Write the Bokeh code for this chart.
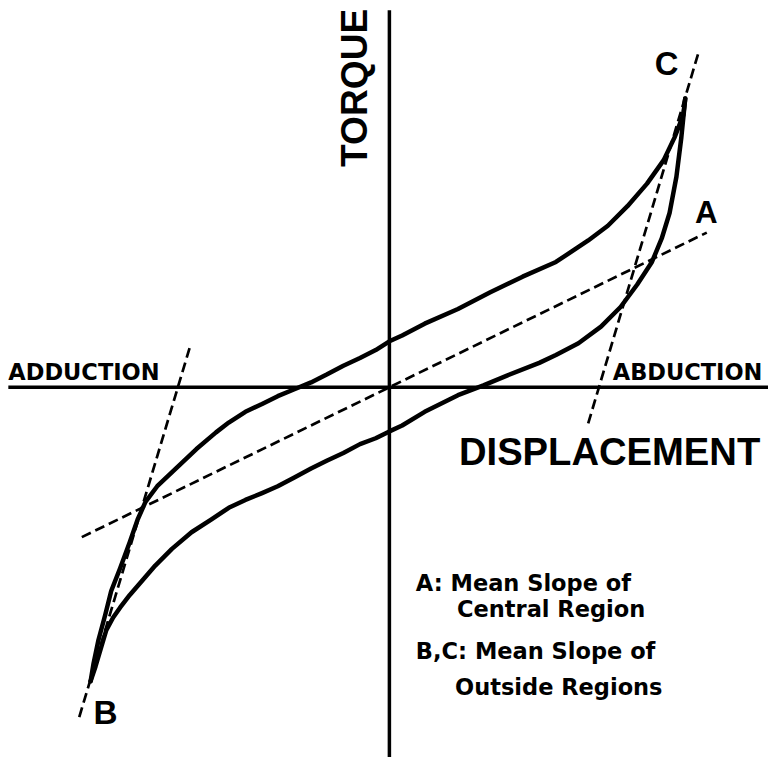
from math import pi
from bokeh.plotting import figure
from bokeh.models import Range1d, Label
from bokeh.embed import file_html
from bokeh.resources import INLINE

# Displacement (x) and torque (y), origin at the crossing of the axes
loading_x = [-305, -302, -297, -290, -284, -275, -265, -257, -249, -237, -217, -197,
             -177, -164, -147, -130, -114, -97, -80, -64, -47, -30, -14, 0, 13, 36, 70,
             103, 136, 170, 203, 223, 243, 263, 280, 291, 300, 302]
loading_y = [-300, -282, -258, -232, -208, -185, -158, -135, -117, -101, -82, -63,
             -46, -36, -25, -17, -9, -2, 5, 13, 22, 30, 38, 47, 53, 65, 80,
             97, 113, 128, 150, 165, 185, 208, 232, 255, 278, 295]

unloading_x = [302, 298, 293, 286, 278, 268, 253, 236, 216, 193, 170, 153, 120, 96, 70, 36,
               13, 0, -14, -30, -47, -64, -80, -97, -114, -130, -147, -164, -182, -202,
               -222, -239, -252, -265, -275, -282, -289, -295, -300, -305]
unloading_y = [295, 255, 215, 178, 152, 128, 105, 82, 62, 45, 33, 25, 12, 2, -8, -25,
               -39, -45, -52, -58, -67, -75, -83, -92, -101, -108, -115, -123, -135, -148,
               -165, -182, -197, -212, -225, -235, -248, -268, -285, -300]

# Mean slope lines (A: central region, B and C: outside regions)
slope_a_x = [-314, 324]
slope_a_y = [-153, 158]
slope_b_x = [-204, -317]
slope_b_y = [40, -338]
slope_c_x = [315, 202]
slope_c_y = [340, -40]

# Axes
axis_h_x = [-389, 387]
axis_h_y = [0, 0]
axis_v_x = [0, 0]
axis_v_y = [385, -378]

S = 768 / 784  # page pixels per reference pixel

p = figure(width=768, height=757, x_range=Range1d(-397, 387), y_range=Range1d(-378, 395),
           toolbar_location=None, output_backend="svg", min_border=0,
           x_axis_location=None, y_axis_location=None)
p.grid.visible = False
p.outline_line_color = None
p.background_fill_color = "white"
p.border_fill_color = "white"

p.line(axis_h_x, axis_h_y, line_color="black", line_width=3.5)
p.line(axis_v_x, axis_v_y, line_color="black", line_width=3.5)

p.line(loading_x, loading_y, line_color="black", line_width=4.5, line_join="round", line_cap="round")
p.line(unloading_x, unloading_y, line_color="black", line_width=4.5, line_join="round", line_cap="round")

for sx, sy in [(slope_a_x, slope_a_y), (slope_b_x, slope_b_y), (slope_c_x, slope_c_y)]:
    p.line(sx, sy, line_color="black", line_width=2.7, line_dash="10 5")


def lab(x, y, t, size, font="Liberation Sans", angle=0):
    fs = size * S
    shift = 0.37 * size
    if angle:
        x = x - shift
    else:
        y = y + shift
    p.add_layout(Label(x=x, y=y, text=t, text_font=font, text_font_size=f"{fs:.1f}px",
                       text_font_style="bold", text_color="black", angle=angle,
                       text_align="left", text_baseline="alphabetic"))


lab(-22, 225, "TORQUE", 38, angle=pi / 2)
lab(71, -80, "DISPLACEMENT", 39)
lab(-389, 7, "ADDUCTION", 23, font="DejaVu Sans")
lab(228, 7, "ABDUCTION", 23, font="DejaVu Sans")
lab(271, 318, "C", 33.5)
lab(312, 167, "A", 32)
lab(-302, -345, "B", 34)

lab(27, -208, "A: Mean Slope of", 23, font="DejaVu Sans")
lab(69, -235, "Central Region", 23, font="DejaVu Sans")
lab(27, -278, "B,C: Mean Slope of", 23, font="DejaVu Sans")
lab(67, -315, "Outside Regions", 23, font="DejaVu Sans")

open("out.html", "w").write(file_html(p, INLINE))
